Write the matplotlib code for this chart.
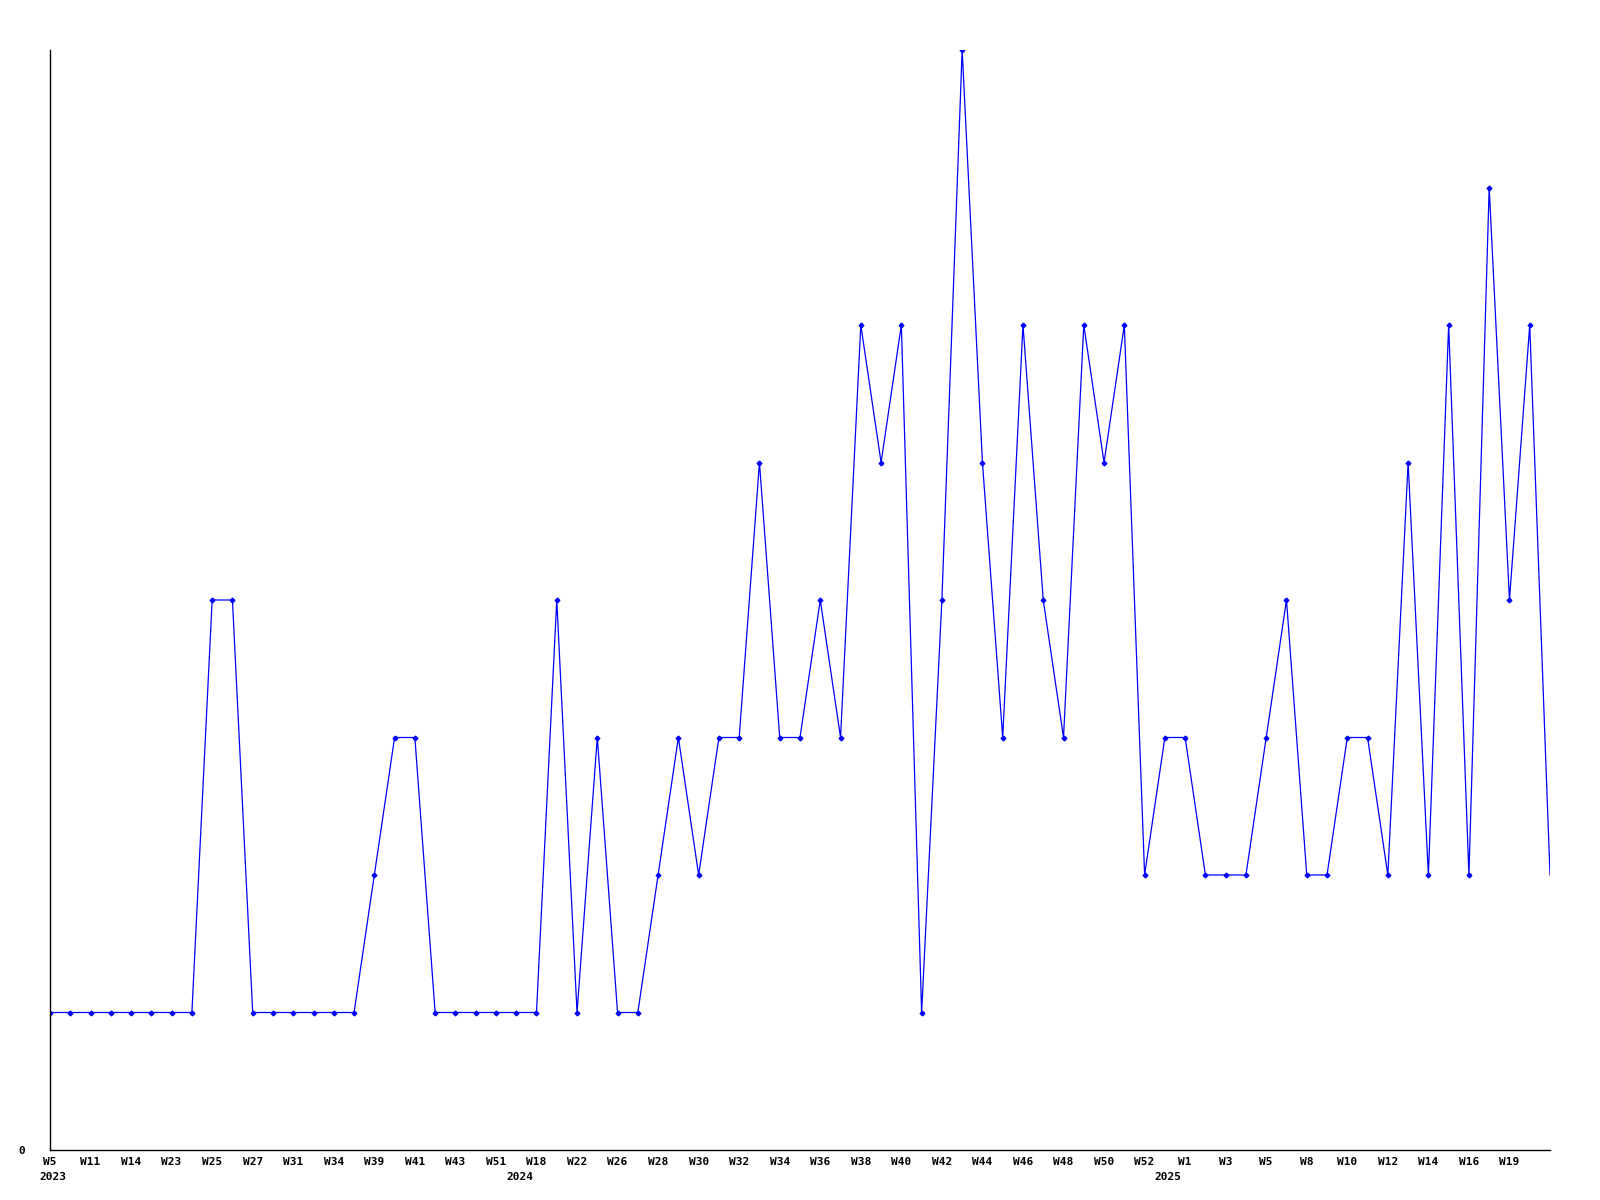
import matplotlib.pyplot as plt
import matplotlib.transforms as mtransforms

# weekly counts (one value per week that has data)
counts = [1, 1, 1, 1, 1, 1, 1, 1, 4, 4,
          1, 1, 1, 1, 1, 1, 2, 3, 3, 1,
          1, 1, 1, 1, 1, 4, 1, 3, 1, 1,
          2, 3, 2, 3, 3, 5, 3, 3, 4, 3,
          6, 5, 6, 1, 4, 8, 5, 3, 6, 4,
          3, 6, 5, 6, 2, 3, 3, 2, 2, 2,
          3, 4, 2, 2, 3, 3, 2, 5, 2, 6,
          2, 7, 4, 6, 2]

# every second week is labelled
week_labels = ['W5', 'W11', 'W14', 'W23', 'W25', 'W27', 'W31', 'W34', 'W39',
               'W41', 'W43', 'W51', 'W18', 'W22', 'W26', 'W28', 'W30', 'W32',
               'W34', 'W36', 'W38', 'W40', 'W42', 'W44', 'W46', 'W48', 'W50',
               'W52', 'W1', 'W3', 'W5', 'W8', 'W10', 'W12', 'W14', 'W16', 'W19']

# first week index of each year
year_labels = ['2023', '2024', '2025']
year_starts = [0, 23, 55]

fig = plt.figure(figsize=(16, 12), dpi=100)
ax = fig.add_axes([50 / 1600, 50 / 1200, 1500 / 1600, 1100 / 1200])

x = list(range(len(counts)))
ax.plot(x, counts, color='#0000ff', linewidth=0.9, marker='D', markersize=2.4,
        markevery=list(range(len(counts) - 1)))

ax.set_xlim(0, len(counts) - 1)
ax.set_ylim(0, max(counts))

for side in ['top', 'right']:
    ax.spines[side].set_visible(False)
for side in ['left', 'bottom']:
    ax.spines[side].set_linewidth(1.0)

font = dict(family='DejaVu Sans Mono', weight='bold', size=8)

ax.set_xticks(range(0, 2 * len(week_labels), 2))
ax.set_xticklabels(week_labels, **font)
ax.set_yticks([0])
ax.set_yticklabels(['0'], **font)
ax.tick_params(axis='x', length=0, pad=5)
ax.tick_params(axis='y', length=0, pad=18)

trans = mtransforms.blended_transform_factory(ax.transData, ax.transAxes)
for lab, start in zip(year_labels, year_starts):
    ax.text(start - 0.5, -0.0245, lab, transform=trans, ha='left', va='center', **font)

fig.savefig('out.png', dpi=100)
